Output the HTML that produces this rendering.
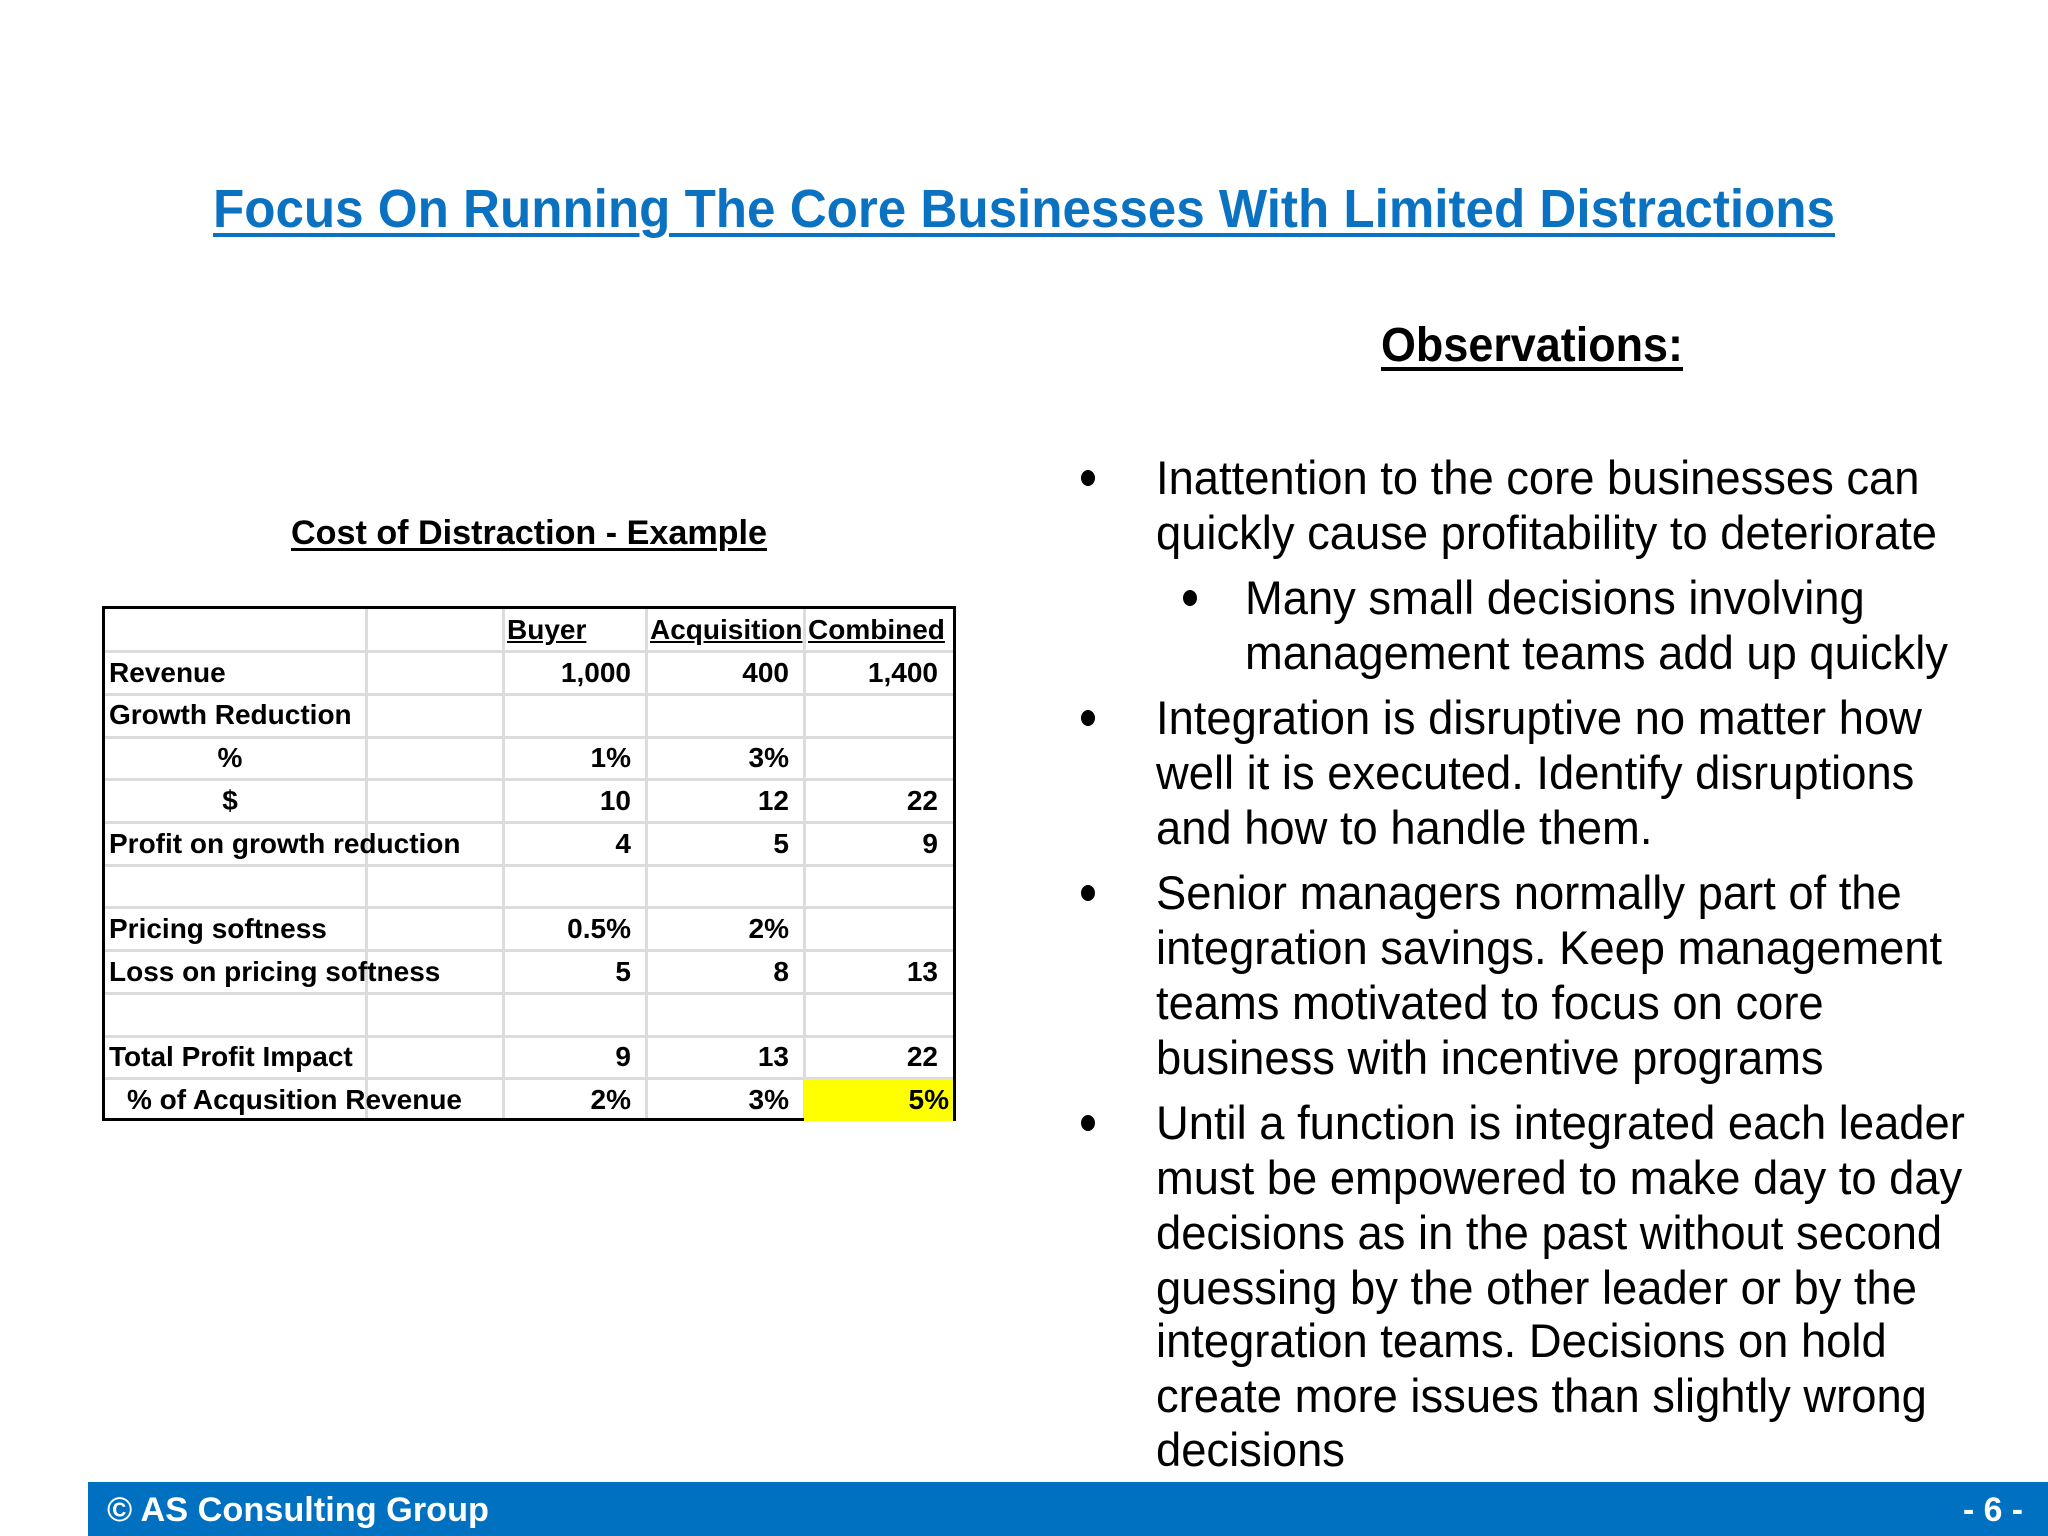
<!DOCTYPE html>
<html><head><meta charset="utf-8">
<style>
html,body{margin:0;padding:0;background:#fff;}
#slide{position:relative;width:2048px;height:1536px;overflow:hidden;background:#fff;font-family:"Liberation Sans",Arial,sans-serif;}
.t{position:absolute;white-space:nowrap;line-height:1;transform-origin:0 50%;}
.line{font-size:47px;color:#000;}
.dot{position:absolute;width:14px;height:16px;border-radius:50%;background:#000;}
.cell{position:absolute;box-sizing:border-box;font-family:"Liberation Sans Narrow","Liberation Sans",sans-serif;font-weight:bold;font-size:28px;color:#000;white-space:nowrap;line-height:42px;}
</style></head>
<body>
<div id="slide">
  <div class="t" id="title" style="left:213px;top:182px;font-size:54px;font-weight:bold;color:#0b72c2;text-decoration:underline;text-decoration-thickness:4px;text-underline-offset:6px;" data-w="1622">Focus On Running The Core Businesses With Limited Distractions</div>
  <div class="t" style="left:1381px;top:322px;font-size:48px;font-weight:bold;text-decoration:underline;text-decoration-thickness:4px;text-underline-offset:6px;" data-w="302">Observations:</div>
  <div class="t" style="left:291px;top:516px;font-size:34px;font-weight:bold;text-decoration:underline;text-decoration-thickness:3px;text-underline-offset:4px;" data-w="476">Cost of Distraction - Example</div>

  <div id="table" style="position:absolute;left:102px;top:606px;width:854px;height:515px;border:3px solid #000;box-sizing:border-box;"></div>

  <div id="bullets"></div>

  <div style="position:absolute;left:88px;top:1482px;width:1960px;height:54px;background:#0070c0;"></div>
  <div class="t" style="left:107px;top:1493px;font-size:34px;font-weight:bold;color:#fff;" data-w="382">© AS Consulting Group</div>
  <div class="t" style="left:1963px;top:1493px;font-size:34px;font-weight:bold;color:#fff;" data-w="60">- 6 -</div>
</div>
<script>
const colEdges=[0,261,398,541,699,848];
const rowLabels=["","Revenue","Growth Reduction","%","$","Profit on growth reduction","","Pricing softness","Loss on pricing softness","","Total Profit Impact","% of Acqusition Revenue"];
const buyerVals=["Buyer","1,000","","1%","10","4","","0.5%","5","","9","2%"];
const acqVals=["Acquisition","400","","3%","12","5","","2%","8","","13","3%"];
const combVals=["Combined","1,400","","","22","9","","","13","","22","5%"];
const rowH=42.7;
const tbl=document.getElementById('table');
function cell(r,c0,c1,text,align,extra){
  const d=document.createElement('div');
  d.className='cell';
  
  
  d.style.left=colEdges[c0]+'px';
  d.style.top=(r*rowH)+'px';
  d.style.width=(colEdges[c1]-colEdges[c0])+'px';
  d.style.height=rowH+'px';
  d.style.textAlign=align;
  d.style.padding='0 15px 0 4px';
  d.style.lineHeight=rowH+'px';
  if(extra)Object.assign(d.style,extra);
  d.textContent=text;
  tbl.appendChild(d);
  return d;
}
for(let r=1;r<12;r++){
  const l=document.createElement('div');
  
  
  l.style.cssText='position:absolute;left:0;width:100%;height:3px;background:#dcdcdc;top:'+(r*rowH-1.5)+'px';
  tbl.appendChild(l);
}
for(let c=1;c<5;c++){
  const l=document.createElement('div');
  
  
  l.style.cssText='position:absolute;top:0;height:100%;width:3px;background:#dcdcdc;left:'+(colEdges[c]-1.5)+'px';
  tbl.appendChild(l);
}
for(let r=0;r<12;r++){
  const lab=rowLabels[r];
  if(lab==="%"||lab==="$") cell(r,0,1,lab,'center');
  else if(r===11) cell(r,0,2,lab,'left',{paddingLeft:'22px'});
  else cell(r,0,2,lab,'left',{});
  const ul=r===0?{textDecoration:'underline',paddingLeft:'4px',paddingRight:'0'}:null;
  cell(r,2,3,buyerVals[r],r===0?'left':'right',ul);
  cell(r,3,4,acqVals[r],r===0?'left':'right',ul);
  cell(r,4,5,combVals[r],r===0?'left':'right',r===11?{background:'#ffff00',paddingRight:'4px'}:ul);
}
const lines=[
 [0,478,"Inattention to the core businesses can",true],
 [0,533,"quickly cause profitability to deteriorate",false],
 [1,598,"Many small decisions involving",true],
 [1,653,"management teams add up quickly",false],
 [0,718,"Integration is disruptive no matter how",true],
 [0,773,"well it is executed. Identify disruptions",false],
 [0,828,"and how to handle them.",false],
 [0,893,"Senior managers normally part of the",true],
 [0,948,"integration savings. Keep management",false],
 [0,1003,"teams motivated to focus on core",false],
 [0,1058,"business with incentive programs",false],
 [0,1123,"Until a function is integrated each leader",true],
 [0,1178,"must be empowered to make day to day",false],
 [0,1233,"decisions as in the past without second",false],
 [0,1288,"guessing by the other leader or by the",false],
 [0,1341,"integration teams. Decisions on hold",false],
 [0,1396,"create more issues than slightly wrong",false],
 [0,1450,"decisions",false]
];
const S=document.getElementById('slide');
const lineEls=[];
lines.forEach(([lvl,y,txt,b])=>{
  const d=document.createElement('div');
  d.className='t line';
  
  
  d.style.left=(lvl?1245:1156)+'px';
  d.style.top=(y-24)+'px';
  d.textContent=txt;
  S.appendChild(d);lineEls.push(d);
  if(b){
    const o=document.createElement('div');
    o.className='dot';
    
    
    o.style.left=(lvl?1183:1081)+'px';
    o.style.top=(y-8)+'px';
    S.appendChild(o);
  }
});
document.querySelectorAll('[data-w]').forEach(e=>{
  const w=e.getBoundingClientRect().width;
  e.style.transform='scaleX('+(parseFloat(e.dataset.w)/w)+')';
});
const ref=lineEls[1].getBoundingClientRect().width;
const sc=781/ref;
lineEls.forEach(e=>e.style.transform='scaleX('+sc+')');
</script>
</body></html>
